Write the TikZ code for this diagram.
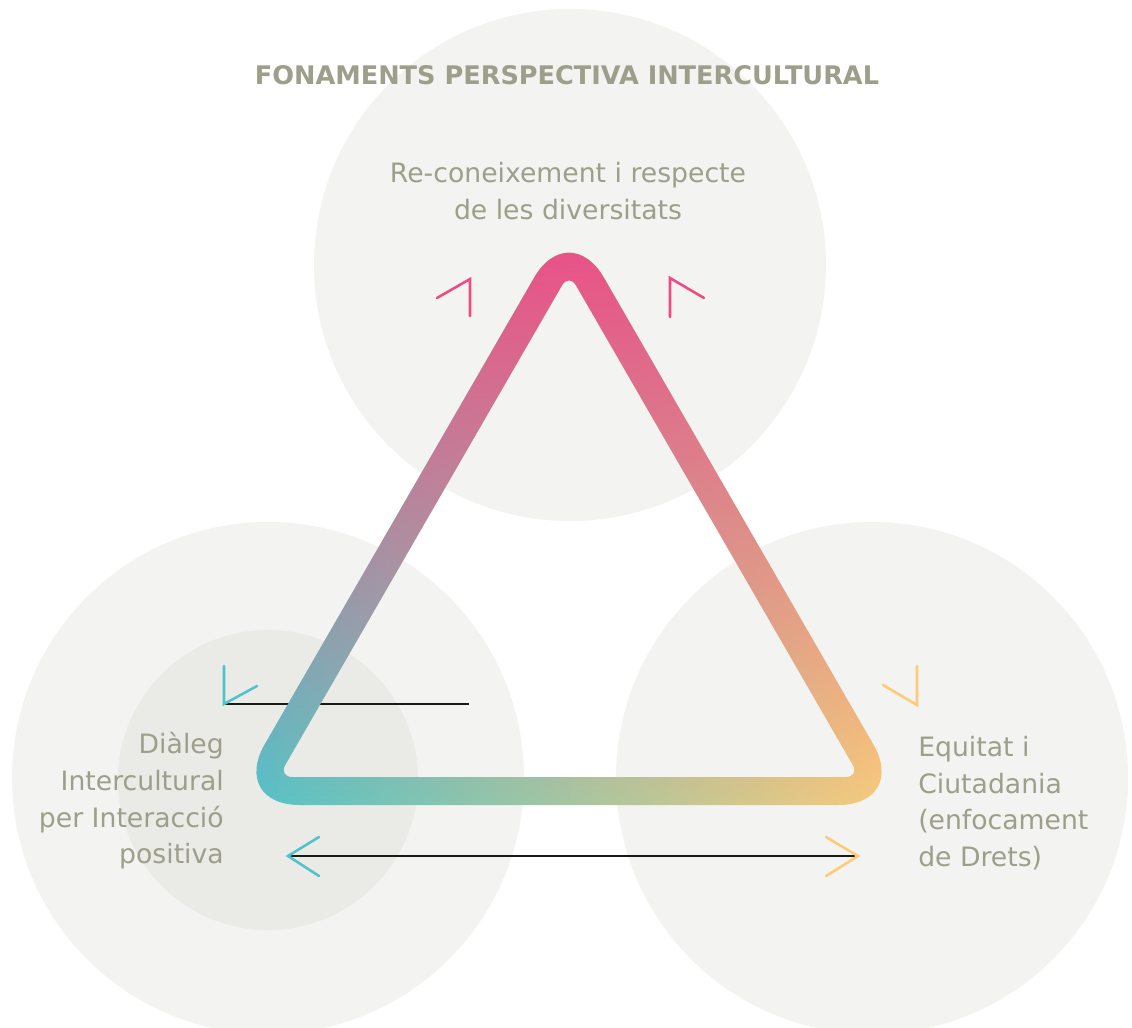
\documentclass[tikz,border=0pt]{standalone}
\usepackage{fontspec}
\setmainfont{DejaVu Sans}
\usetikzlibrary{fadings}

\definecolor{circgray}{RGB}{243,243,241}
\definecolor{innergray}{RGB}{234,234,230}
\definecolor{txtgray}{RGB}{157,159,138}
\definecolor{pinkc}{RGB}{238,75,134}
\definecolor{tealc}{RGB}{78,195,203}
\definecolor{orangec}{RGB}{254,202,120}

\tikzfading[name=pinkfade, top color=transparent!0, bottom color=transparent!100]

\tikzset{
  circ/.style = {fill=circgray},
  link/.style = {line width=1.8pt, black!90},
  chev/.style = {line width=1.9pt, line cap=round},
  lbl/.style = {text=txtgray, inner sep=0pt, align=center,
    font=\fontsize{20pt}{27.5pt}\selectfont}
}

% outer and inner outline of the rounded triangle band
\newcommand{\ringpath}{[rounded corners=52.5pt] (569,805) -- (229.7,805) -- (569,217) -- (908.3,805) -- cycle
  [rounded corners=10.5pt] (569,777) -- (859.7,777) -- (569,273) -- (278.3,777) -- cycle}

\begin{document}
\begin{tikzpicture}[x=0.75pt, y=-0.75pt]
  \useasboundingbox (0,0) rectangle (1132,1028);
  \fill[white] (0,0) rectangle (1132,1028);

  % background circles
  \fill[circ] (570,265) circle[radius=192pt];
  \fill[circ] (268,778) circle[radius=192pt];
  \fill[circ] (872,778) circle[radius=192pt];
  \fill[innergray] (268,780) circle[radius=112.5pt];

  % lines
  \coordinate (ltop) at (224,704);
  \coordinate (rtop) at (469,704);
  \coordinate (lbot) at (288,856);
  \coordinate (rbot) at (858,856);
  \draw[link] (ltop) -- (rtop);
  \draw[link] (lbot) -- (rbot);

  % triangle
  \shade[left color=tealc, right color=orangec] \ringpath;
  \fill[pinkc, path fading=pinkfade] \ringpath;

  % chevrons
  \draw[chev, pinkc] (437,298) -- (470,279) -- (470,316);
  \draw[chev, pinkc] (670,317) -- (670,278) -- (704,298);
  \draw[chev, tealc] (224,666) -- (ltop) -- (257,686);
  \draw[chev, tealc] (319,837) -- (lbot) -- (319,876);
  \draw[chev, orangec] (826,837) -- (rbot) -- (826,876);
  \draw[chev, orangec] (883,685) -- (917,705) -- (917,666);

  % texts
  \node[lbl, font=\bfseries\fontsize{19.2pt}{24pt}\selectfont] (title) at (567,75) {FONAMENTS PERSPECTIVA INTERCULTURAL};
  \node[lbl] (respecte) at (568,191) {Re-coneixement i respecte\\de les diversitats};
  \node[lbl, anchor=east, align=right] (dialeg) at (224,801) {Diàleg\\Intercultural\\per Interacció\\positiva};
  \node[lbl, anchor=west, align=left] (equitat) at (918,803) {Equitat i\\Ciutadania\\(enfocament\\de Drets)};
\end{tikzpicture}
\end{document}
